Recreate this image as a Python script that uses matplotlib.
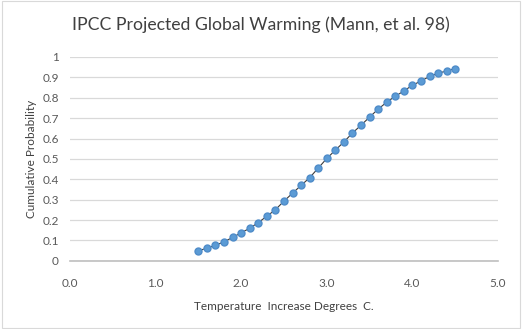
import numpy as np
import matplotlib.pyplot as plt

# Temperature increase (deg C) and cumulative probability
temps = [1.5, 1.6, 1.7, 1.8, 1.9, 2.0, 2.1, 2.2, 2.3, 2.4, 2.5,
         2.6, 2.7, 2.8, 2.9, 3.0, 3.1, 3.2, 3.3, 3.4, 3.5,
         3.6, 3.7, 3.8, 3.9, 4.0, 4.1, 4.2, 4.3, 4.4, 4.5]
cum_prob = [0.049, 0.063, 0.076, 0.094, 0.115, 0.138, 0.160, 0.188, 0.219, 0.251, 0.293,
            0.332, 0.370, 0.408, 0.455, 0.502, 0.543, 0.583, 0.627, 0.665, 0.705,
            0.744, 0.778, 0.807, 0.833, 0.861, 0.882, 0.904, 0.920, 0.931, 0.943]

x_ticks = [0.0, 1.0, 2.0, 3.0, 4.0, 5.0]
y_ticks = [0, 0.1, 0.2, 0.3, 0.4, 0.5, 0.6, 0.7, 0.8, 0.9, 1]

plt.rcParams['font.family'] = ['Lato', 'DejaVu Sans']

fig = plt.figure(figsize=(5.22, 3.29), dpi=100)
ax = fig.add_axes([0.134, 0.207, 0.820, 0.620])

# Plot the curve with markers
ax.plot(temps, cum_prob, color='#3a3a3a', linewidth=0.8, marker='o',
        markersize=5, markerfacecolor='#5b9bd5', markeredgecolor='#4f8cc9', zorder=3)

ax.set_xlim(0, 5)
ax.set_ylim(0, 1)
ax.set_xticks(x_ticks)
ax.set_xticklabels([f'{t:.1f}' for t in x_ticks])
ax.set_yticks(y_ticks)
ax.set_yticklabels(['0', '0.1', '0.2', '0.3', '0.4', '0.5', '0.6', '0.7', '0.8', '0.9', '1'])
ax.tick_params(axis='both', length=0, labelsize=8.5, labelcolor='#595959')
ax.tick_params(axis='x', pad=12)
ax.tick_params(axis='y', pad=8)

ax.grid(axis='y', color='#d9d9d9', linewidth=0.9)
ax.set_axisbelow(True)
for side in ['top', 'right', 'left']:
    ax.spines[side].set_visible(False)
ax.spines['bottom'].set_color('#bfbfbf')
ax.spines['bottom'].set_linewidth(1.2)

fig.text(0.5, 0.925, 'IPCC Projected Global Warming (Mann, et al. 98)', fontsize=12.7,
         color='#404040', ha='center', va='center')
ax.set_xlabel('Temperature  Increase Degrees  C.', fontsize=8.5, color='#404040', labelpad=9)
ax.set_ylabel('Cumulative Probability', fontsize=8.5, color='#404040', labelpad=4)

# light border round the chart area
fig.patches.append(plt.Rectangle((0.003, 0.003), 0.994, 0.994, transform=fig.transFigure,
                                 fill=False, edgecolor='#d9d9d9', linewidth=0.8))

fig.savefig('out.png', dpi=100)
